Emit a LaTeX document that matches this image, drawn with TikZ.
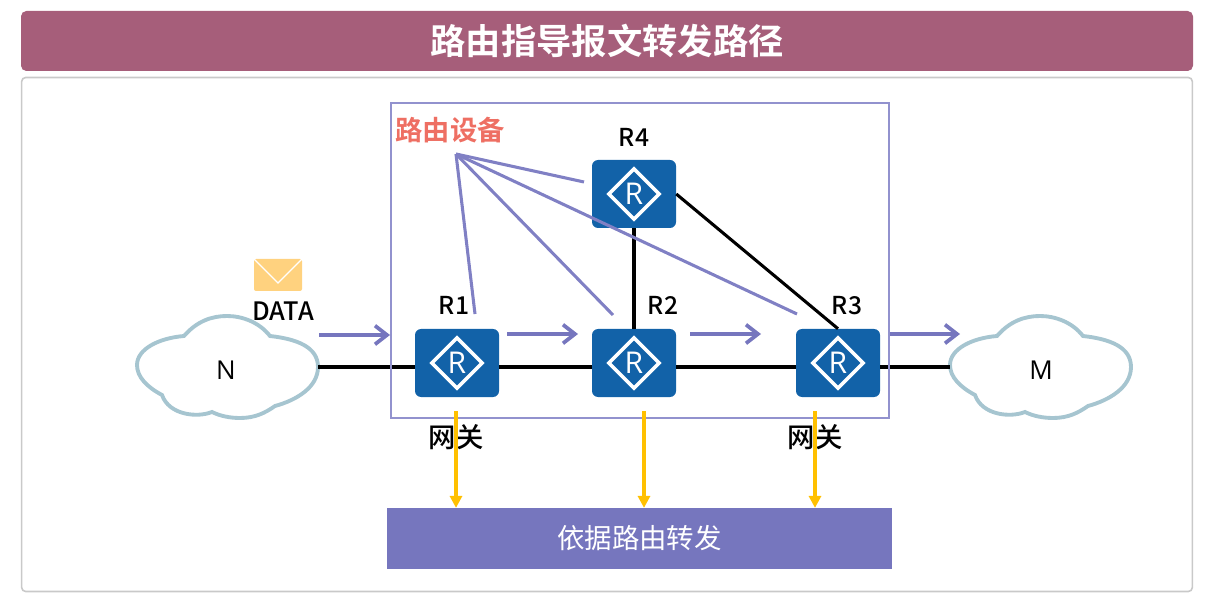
\documentclass[tikz,border=0pt]{standalone}
\usepackage{fontspec}
\setmainfont{Open Sans}
\newfontfamily\cjk{Noto Sans CJK SC}
\newfontfamily\cjkb{Noto Sans CJK SC Medium}[BoldFont={Noto Sans CJK SC Bold}]
\usetikzlibrary{arrows.meta}
\definecolor{titlebar}{HTML}{A65E7A}
\definecolor{framegray}{HTML}{C9C9C9}
\definecolor{lavender}{HTML}{7676BE}
\definecolor{boxline}{HTML}{9292CE}
\definecolor{calloutline}{HTML}{8080C4}
\definecolor{routerblue}{HTML}{1262A8}
\definecolor{cloudline}{HTML}{A6C5D0}
\definecolor{salmon}{HTML}{EE6F63}
\definecolor{gold}{HTML}{FFC000}
\definecolor{mailcolor}{HTML}{FFD27F}
\tikzset{
  router/.style={rectangle, rounded corners=4.5pt, fill=routerblue, minimum width=63pt,
    minimum height=51pt, inner sep=0pt, text=white, font=\fontsize{22.5}{23}\selectfont,
    path picture={\draw[white, line width=2.6pt, sharp corners]
      ([xshift=-18.8pt]path picture bounding box.center) -- ([yshift=18.8pt]path picture bounding box.center)
      -- ([xshift=18.8pt]path picture bounding box.center) -- ([yshift=-18.8pt]path picture bounding box.center) -- cycle;}},
  netcloud/.pic={
    \draw[cloudline, fill=white, line width=2.9pt]
      (-43,-31) .. controls (-30,-46) and (-15,-51) .. (0,-51)
      .. controls (15,-51) and (32,-45) .. (43,-31)
      .. controls (70,-28) and (91,-20) .. (91,0)
      .. controls (91,20) and (70,33) .. (48,39)
      .. controls (38,46) and (28,51) .. (13,51)
      .. controls (3,51) and (-7,49) .. (-15,45)
      .. controls (-30,51) and (-58,48) .. (-65,28)
      .. controls (-80,20) and (-90,10) .. (-90,-2)
      .. controls (-90,-18) and (-68,-29) .. cycle;
    \coordinate (-east) at (91,0);
    \coordinate (-west) at (-90,0);
  },
  rlabel/.style={font=\cjkb\fontsize{18.5}{19}\selectfont, inner sep=0pt},
  gwlabel/.style={font=\cjkb\fontsize{20.5}{21}\selectfont, inner sep=0pt},
  link/.style={line width=2.3pt, black},
  flow/.style={line width=3pt, lavender, -{Straight Barb[length=9pt,width=14pt,line width=2.8pt]}},
  callout/.style={line width=2.3pt, calloutline},
  lookup/.style={line width=2.4pt, gold, -{Triangle[length=9pt,width=9pt]}}
}
\begin{document}
\begin{tikzpicture}[x=0.75pt,y=-0.75pt]
  \useasboundingbox (0,0) rectangle (1208,599);

  \node[draw=framegray, line width=1.2pt, rounded corners=3pt, minimum width=878pt, minimum height=385.5pt, inner sep=0pt] (frame) at (607,334.5) {};
  \node[fill=titlebar, rounded corners=4pt, minimum width=879pt, minimum height=45pt, inner sep=0pt,
    text=white, font=\cjkb\bfseries\fontsize{26.5}{27}\selectfont] (title) at (607,41) {路由指导报文转发路径};

  \pic (N) at (227,367) {netcloud};
  \pic (M) at (1040,367) {netcloud};
  \node[font=\fontsize{19.5}{20}\selectfont, inner sep=0pt] (Ntext) at (226,370) {N};
  \node[font=\fontsize{19.5}{20}\selectfont, inner sep=0pt] (Mtext) at (1041,370) {M};

  \node[router] (R1) at (457,363) {R};
  \node[router] (R2) at (634,363) {R};
  \node[router] (R3) at (838,363) {R};
  \node[router] (R4) at (634,194) {R};

  % links
  \draw[link] (N-east) -- (N-east -| R1.west);
  \draw[link] (N-east -| R1.east) -- (N-east -| R2.west);
  \draw[link] (N-east -| R2.east) -- (N-east -| R3.west);
  \draw[link] (N-east -| R3.east) -- (M-west);
  \draw[link] (R4.south) -- (R2.north);
  \draw[link] (R4.east) -- (R3.north);

  \node[draw=boxline, line width=1.5pt, minimum width=373.5pt, minimum height=236pt, inner sep=0pt] (domain) at (640,260.5) {};

  \node[rlabel] (lR1) at (454,305.5) {R1};
  \node[rlabel] (lR2) at (663,305.5) {R2};
  \node[rlabel] (lR3) at (847,305.5) {R3};
  \node[rlabel] (lR4) at (634,137.5) {R4};

  % packet
  \node[fill=mailcolor, rounded corners=1.5pt, minimum width=36pt, minimum height=24pt, inner sep=0pt] (mail) at (278,275) {};
  \draw[white, line width=0.9pt] (mail.north west) -- (mail.center |- 0,283) -- (mail.north east);
  \node[font=\cjkb\fontsize{19}{19}\selectfont, inner sep=0pt] (data) at (283,311) {DATA};

  \coordinate (f0) at (319,335);
  \coordinate (f1) at (390,335);
  \coordinate (f2) at (507,334);
  \coordinate (f3) at (578,334);
  \coordinate (f4) at (690,334);
  \coordinate (f5) at (761,334);
  \coordinate (f6) at (890,334);
  \coordinate (f7) at (960,334);
  \draw[flow] (f0) -- (f1);
  \draw[flow] (f2) -- (f3);
  \draw[flow] (f4) -- (f5);
  \draw[flow] (f6) -- (f7);

  \node[font=\cjkb\bfseries\fontsize{20.5}{21}\selectfont, text=salmon, inner sep=0pt] (devices) at (450,130) {路由设备};
  \coordinate (hub) at (456,154);
  \coordinate (cR1) at (475,314);
  \coordinate (cR2) at (613,315);
  \coordinate (cR3) at (797,314);
  \coordinate (cR4) at (584,182);
  \foreach \t in {cR1,cR2,cR3,cR4}
    \draw[callout] (hub) -- (\t);

  \node[fill=lavender, minimum width=379pt, minimum height=45.5pt, inner sep=0pt, text=white,
    font=\cjk\fontsize{20.6}{21}\selectfont] (forward) at (639.5,538.5) {依据路由转发};

  \node[gwlabel] (gw1) at (456,437) {网关};
  \node[gwlabel] (gw3) at (815,437) {网关};
  \coordinate (g1) at (456,411);
  \coordinate (g2) at (644,411);
  \coordinate (g3) at (815,411);
  \foreach \g in {g1,g2,g3}
    \draw[lookup] (\g) -- (\g |- forward.north);
\end{tikzpicture}
\end{document}
